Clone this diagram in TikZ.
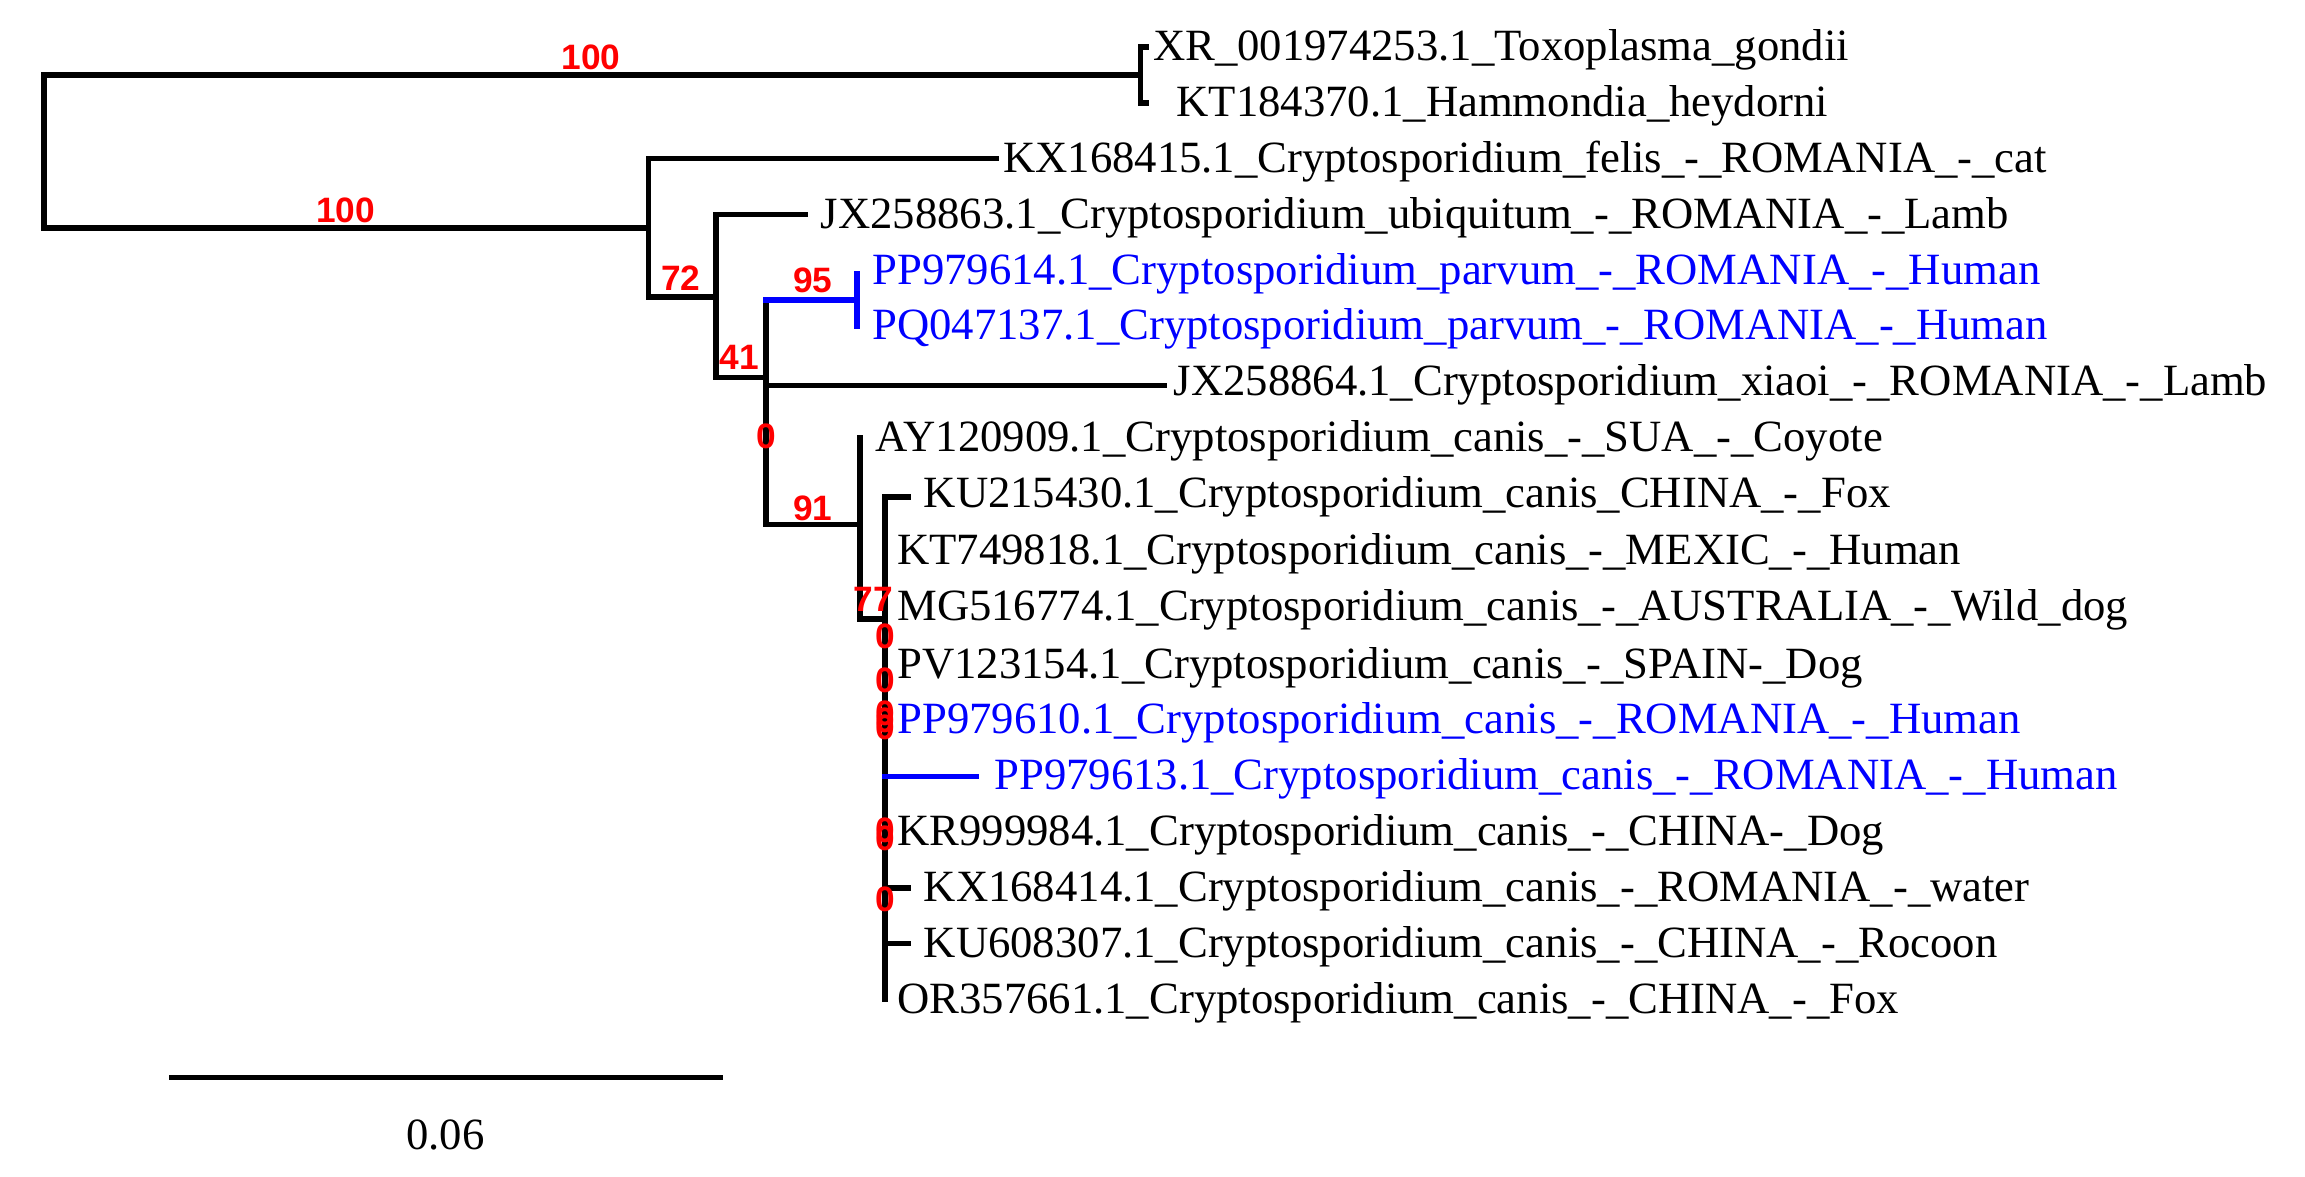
\documentclass[tikz,border=0pt]{standalone}
\usepackage{fontspec}
\setmainfont{Liberation Serif}
\newfontfamily\lblfont{Liberation Sans}
\begin{document}
\begin{tikzpicture}[x=0.5pt,y=-0.5pt,
 br/.style={line width=1.8pt,line cap=rect},
 bb/.style={br,blue},
 tx/.style={anchor=west,inner sep=0pt,font=\fontsize{15.2}{15.2}\selectfont},
 bt/.style={tx,text=blue},
 bs/.style={inner sep=0pt,text=red,font=\lblfont\bfseries\fontsize{12}{12}\selectfont}]
\useasboundingbox (0,0) rectangle (1568,800);
% tree
\draw[br] (30,51)--(30,155);
\draw[br] (30,51)--(776,51) (776,32)--(776,70) (776,32)--(780,32) (776,70)--(780,70);
\draw[br] (30,155)--(441,155) (441,108)--(441,202) (441,108)--(678,108) (441,202)--(487,202);
\draw[br] (487,146)--(487,257) (487,146)--(548,146) (487,257)--(521,257);
\draw[br] (521,204)--(521,357) (521,262)--(792,262) (521,357)--(585,357);
\draw[bb] (521,204)--(583,204) (583,186)--(583,222);
\draw[br] (585,298)--(585,421) (585,421)--(602,421);
\draw[br] (602,338)--(602,680) (602,338)--(618,338) (602,604)--(618,604) (602,642)--(618,642);
\draw[bb] (602,528)--(664,528);
% labels
\node[tx] (t1) at (784,34) {XR\_001974253.1\_Toxoplasma\_gondii};
\node[tx] (t2) at (800,72) {KT184370.1\_Hammondia\_heydorni};
\node[tx] (t3) at (682,110) {KX168415.1\_Cryptosporidium\_felis\_-\_ROMANIA\_-\_cat};
\node[tx] (t4) at (558,148) {JX258863.1\_Cryptosporidium\_ubiquitum\_-\_ROMANIA\_-\_Lamb};
\node[bt] (t5) at (593,186) {PP979614.1\_Cryptosporidium\_parvum\_-\_ROMANIA\_-\_Human};
\node[bt] (t6) at (593,224) {PQ047137.1\_Cryptosporidium\_parvum\_-\_ROMANIA\_-\_Human};
\node[tx] (t7) at (798,262) {JX258864.1\_Cryptosporidium\_xiaoi\_-\_ROMANIA\_-\_Lamb};
\node[tx] (t8) at (595,300) {AY120909.1\_Cryptosporidium\_canis\_-\_SUA\_-\_Coyote};
\node[tx] (t9) at (628,338) {KU215430.1\_Cryptosporidium\_canis\_CHINA\_-\_Fox};
\node[tx] (t10) at (610,377) {KT749818.1\_Cryptosporidium\_canis\_-\_MEXIC\_-\_Human};
\node[tx] (t11) at (610,415) {MG516774.1\_Cryptosporidium\_canis\_-\_AUSTRALIA\_-\_Wild\_dog};
\node[tx] (t12) at (610,454) {PV123154.1\_Cryptosporidium\_canis\_-\_SPAIN-\_Dog};
\node[bt] (t13) at (610,492) {PP979610.1\_Cryptosporidium\_canis\_-\_ROMANIA\_-\_Human};
\node[bt] (t14) at (676,530) {PP979613.1\_Cryptosporidium\_canis\_-\_ROMANIA\_-\_Human};
\node[tx] (t15) at (610,568) {KR999984.1\_Cryptosporidium\_canis\_-\_CHINA-\_Dog};
\node[tx] (t16) at (628,606) {KX168414.1\_Cryptosporidium\_canis\_-\_ROMANIA\_-\_water};
\node[tx] (t17) at (628,644) {KU608307.1\_Cryptosporidium\_canis\_-\_CHINA\_-\_Rocoon};
\node[tx] (t18) at (610,682) {OR357661.1\_Cryptosporidium\_canis\_-\_CHINA\_-\_Fox};
% bootstrap
\node[bs] (b1) at (402,39) {100};
\node[bs] (b2) at (235,143) {100};
\node[bs] (b3) at (463,189) {72};
\node[bs] (b4) at (553,191) {95};
\node[bs] (b5) at (503,243) {41};
\node[bs] (b6) at (521,297) {0};
\node[bs] (b7) at (553,346) {91};
\node[bs] (b8) at (594,408) {77};
\foreach \yy [count=\i] in {433,463,485,490,495,565,570,612}
  \node[bs] (z\i) at (602,\yy) {0};
% scale
\draw[br] (117,733)--(490,733);
\node[inner sep=0pt,font=\fontsize{15.2}{15.2}\selectfont] (sc) at (303,772) {0.06};
\end{tikzpicture}
\end{document}
